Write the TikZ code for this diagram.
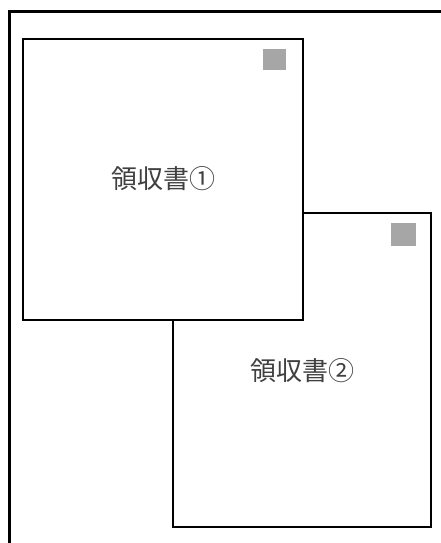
\documentclass[tikz,border=0pt]{standalone}
\usepackage{fontspec}
\newfontfamily\jpfont{Noto Sans CJK JP}
\definecolor{markgray}{HTML}{A6A6A6}
\definecolor{textgray}{HTML}{404040}

\begin{document}
\begin{tikzpicture}[x=1pt, y=-1pt]
      \useasboundingbox (0,0) rectangle (441,543);
      \tikzset{receipt/.style={draw=black, line width=2.2pt, fill=white},
               stampbox/.style={fill=markgray}}

      % outer frame, running past the edges
      \draw[line width=3pt] (9,560) -- (9,12) -- (460,12);

      % receipt 2 (behind)
      \node[receipt, minimum width=258pt, minimum height=314pt, inner sep=0pt](R2) at (302,370){};
      \node[font=\jpfont\fontsize{26}{30}\selectfont, text=textgray](T2) at (R2.center) [yshift=-1pt]{領収書②};
      \fill[stampbox] (391,223) rectangle (416,246);

      % receipt 1 (in front)
      \node[receipt, minimum width=280pt, minimum height=281pt, inner sep=0pt](R1) at (163,179.5){};
      \node[font=\jpfont\fontsize{26}{30}\selectfont, text=textgray](T1) at (R1.center) [yshift=1pt]{領収書①};
      \fill[stampbox] (263,49) rectangle (286,70);
    \end{tikzpicture}
\end{document}
